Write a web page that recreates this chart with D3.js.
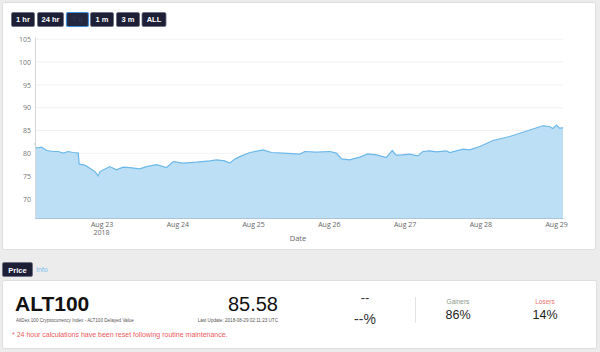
<!DOCTYPE html>
<html>
<head>
<meta charset="utf-8">
<script src="https://cdn.jsdelivr.net/npm/d3@7"></script>
<style>
  body { margin: 0; background: #ececec; }
  svg { display: block; }
</style>
</head>
<body>
<script>
// ALT100 price (UTC)
var times = [
  "2018-08-22 02:54", "2018-08-22 03:12", "2018-08-22 05:00", "2018-08-22 06:36", "2018-08-22 08:42",
  "2018-08-22 10:18", "2018-08-22 11:48", "2018-08-22 13:24", "2018-08-22 15:00", "2018-08-22 16:36",
  "2018-08-22 16:54", "2018-08-22 18:42", "2018-08-22 20:18", "2018-08-22 21:54", "2018-08-22 22:54",
  "2018-08-22 23:30", "2018-08-23 01:36", "2018-08-23 02:36", "2018-08-23 04:42", "2018-08-23 06:48",
  "2018-08-23 09:00", "2018-08-23 12:06", "2018-08-23 14:12", "2018-08-23 17:24", "2018-08-23 20:36",
  "2018-08-23 22:42", "2018-08-24 01:48", "2018-08-24 06:06", "2018-08-24 10:18", "2018-08-24 12:24",
  "2018-08-24 15:00", "2018-08-24 16:36", "2018-08-24 18:12", "2018-08-24 20:18", "2018-08-24 23:00",
  "2018-08-25 03:12", "2018-08-25 05:48", "2018-08-25 09:30", "2018-08-25 14:48", "2018-08-25 16:24",
  "2018-08-25 20:06", "2018-08-26 00:18", "2018-08-26 02:24", "2018-08-26 04:00", "2018-08-26 06:36",
  "2018-08-26 09:48", "2018-08-26 12:24", "2018-08-26 15:06", "2018-08-26 18:12", "2018-08-26 20:06",
  "2018-08-26 21:12", "2018-08-26 22:24", "2018-08-27 01:36", "2018-08-27 04:12", "2018-08-27 05:48",
  "2018-08-27 07:54", "2018-08-27 10:06", "2018-08-27 13:12", "2018-08-27 14:18", "2018-08-27 18:30",
  "2018-08-27 20:36", "2018-08-27 23:48", "2018-08-28 04:00", "2018-08-28 09:18", "2018-08-28 19:48",
  "2018-08-28 21:54", "2018-08-28 23:00", "2018-08-29 00:06", "2018-08-29 01:06", "2018-08-29 02:11"
]
var prices = [
  82.24, 81.14, 81.36, 80.62, 80.40,
  80.40, 80.04, 80.40, 80.18, 80.04,
  77.63, 77.41, 76.75, 76.00, 75.05,
  76.00, 76.75, 77.10, 76.37, 76.97,
  76.88, 76.59, 77.10, 77.54, 76.88,
  78.20, 77.85, 78.07, 78.35, 78.57,
  78.35, 77.85, 78.73, 79.45, 80.18,
  80.77, 80.18, 80.04, 79.82, 80.40,
  80.26, 80.40, 80.04, 78.79, 78.57,
  79.16, 79.89, 79.67, 79.08, 80.62,
  79.67, 79.60, 79.82, 79.45, 80.40,
  80.55, 80.33, 80.55, 80.18, 80.92,
  80.77, 81.49, 82.81, 83.69, 86.04,
  85.89, 85.45, 86.20, 85.54, 85.58
]
var yTicks = [70, 75, 80, 85, 90, 95, 100, 105]
var xTickDays = ["2018-08-23", "2018-08-24", "2018-08-25", "2018-08-26", "2018-08-27", "2018-08-28", "2018-08-29"]
var rangeButtons = ["1 hr", "24 hr", "7 d", "1 m", "3 m", "ALL"]
var selectedButton = "7 d"

var parseTime = d3.utcParse("%Y-%m-%d %H:%M")
var parseDay = d3.utcParse("%Y-%m-%d")
var data = times.map(function(t, i) { return {date: parseTime(t), value: prices[i]} })

svgWidth = 600
svgHeight = 352
margin = {"top": 37, "bottom": 134, "left": 35, "right": 37}

var svg = d3.select("body").append("svg")
    .attr("width", svgWidth)
    .attr("height", svgHeight)
    .style("font-family", "'Liberation Sans', Arial, sans-serif")

// top panel
svg.append("rect")
    .attr("x", 2.5).attr("y", 2.5)
    .attr("width", 593).attr("height", 247)
    .attr("rx", 2)
    .attr("fill", "white")
    .attr("stroke", "#dedede")

// range buttons
var btnX = [11.5, 37.5, 66.5, 90.5, 116.5, 142]
var btnW = [23, 26, 22, 23, 23, 24]
var btns = svg.selectAll(".rbtn")
    .data(rangeButtons)
    .enter().append("g")
      .attr("class", "rbtn")
      .attr("transform", function(d, i) { return "translate(" + btnX[i] + ",12.5)" })

btns.append("rect")
    .attr("width", function(d, i) { return btnW[i] })
    .attr("height", 14)
    .attr("rx", 1.5)
    .attr("fill", function(d) { return d == selectedButton ? "#23283f" : "#1c1f36" })
    .attr("stroke", function(d) { return d == selectedButton ? "#3b8ede" : "#6a6d80" })
    .attr("stroke-width", function(d) { return d == selectedButton ? 1.2 : 0.8 })

btns.append("text")
    .attr("x", function(d, i) { return btnW[i] / 2 })
    .attr("y", 9.8)
    .attr("text-anchor", "middle")
    .attr("font-size", 7.5)
    .attr("font-weight", "bold")
    .attr("fill", function(d) { return d == selectedButton ? "#2d3350" : "white" })
    .text(function(d) { return d })

// chart
var xScale = d3.scaleUtc()
    .domain([parseTime("2018-08-22 02:54"), parseTime("2018-08-29 02:11")])
    .range([margin.left, svgWidth - margin.right])

var yScale = d3.scaleLinear()
    .domain([65.76, 105.5])
    .range([svgHeight - margin.bottom + 0.3, margin.top])

var yAxis = d3.axisLeft(yScale)
    .tickValues(yTicks)
    .tickSize(0)
    .tickPadding(4)

var xAxis = d3.axisBottom(xScale)
    .tickValues(xTickDays.map(parseDay))
    .tickSize(0)
    .tickPadding(4)
    .tickFormat(d3.utcFormat("Aug %-d"))

// gridlines
svg.append("g")
    .selectAll("line")
    .data(yTicks)
    .enter().append("line")
      .attr("x1", margin.left)
      .attr("x2", svgWidth - margin.right)
      .attr("y1", function(d) { return yScale(d) })
      .attr("y2", function(d) { return yScale(d) })
      .attr("stroke", "#f2f2f2")
      .attr("stroke-width", 1)

var area = d3.area()
    .x(function(d) { return xScale(d.date) })
    .y0(yScale(65.76))
    .y1(function(d) { return yScale(d.value) })

var line = d3.line()
    .x(function(d) { return xScale(d.date) })
    .y(function(d) { return yScale(d.value) })

svg.append("path")
    .datum(data)
    .attr("d", area)
    .attr("fill", "#bcdff5")

svg.append("path")
    .datum(data)
    .attr("d", line)
    .attr("fill", "none")
    .attr("stroke", "#6cb8ea")
    .attr("stroke-width", 1.2)

var gy = svg.append("g")
    .attr("transform", "translate(" + margin.left + ",0)")
    .call(yAxis)
gy.select(".domain").attr("stroke", "#d6d6d6")
gy.selectAll("text").attr("fill", "#777").attr("font-size", 7).attr("font-family", "'Open Sans', sans-serif")

var gx = svg.append("g")
    .attr("transform", "translate(0," + (svgHeight - margin.bottom) + ")")
    .call(xAxis)
gx.select(".domain").attr("stroke", "#aac4d8")
gx.selectAll("text").attr("fill", "#666").attr("font-size", 7).attr("font-family", "'Open Sans', sans-serif")

svg.append("text")
    .attr("x", xScale(parseDay("2018-08-23")))
    .attr("y", 235)
    .attr("text-anchor", "middle")
    .attr("font-size", 7)
    .attr("font-family", "'Open Sans', sans-serif")
    .attr("fill", "#666")
    .text("2018")

svg.append("text")
    .attr("x", 298)
    .attr("y", 241)
    .attr("text-anchor", "middle")
    .attr("font-size", 7.5)
    .attr("font-family", "'Open Sans', sans-serif")
    .attr("fill", "#666")
    .text("Date")

// tabs
svg.append("rect")
    .attr("x", 2.5).attr("y", 262.5)
    .attr("width", 30).attr("height", 14)
    .attr("rx", 1.5)
    .attr("fill", "#1c1f36")
    .attr("stroke", "#6a6d80")
    .attr("stroke-width", 0.8)
svg.append("text")
    .attr("x", 17.5).attr("y", 272.5)
    .attr("text-anchor", "middle")
    .attr("font-size", 7.5).attr("font-weight", "bold")
    .attr("fill", "white")
    .text("Price")
svg.append("text")
    .attr("x", 36).attr("y", 272)
    .attr("font-size", 7)
    .attr("fill", "#7ec0ee")
    .text("Info")

// bottom panel
svg.append("rect")
    .attr("x", 2.5).attr("y", 280.5)
    .attr("width", 594).attr("height", 68)
    .attr("rx", 2)
    .attr("fill", "white")
    .attr("stroke", "#dedede")

svg.append("text")
    .attr("x", 15).attr("y", 311)
    .attr("font-size", 21).attr("font-weight", "bold")
    .attr("fill", "#111")
    .text("ALT100")
svg.append("text")
    .attr("x", 16).attr("y", 322)
    .attr("font-size", 4.6)
    .attr("fill", "#555")
    .text("AltDex 100 Cryptocurrency Index - ALT100 Delayed Value")
svg.append("text")
    .attr("x", 12).attr("y", 337)
    .attr("font-size", 7)
    .attr("fill", "#f05a5a")
    .text("* 24 hour calculations have been reset following routine maintenance.")

svg.append("text")
    .attr("x", 278).attr("y", 311)
    .attr("text-anchor", "end")
    .attr("font-size", 20)
    .attr("fill", "#111")
    .text("85.58")
svg.append("text")
    .attr("x", 278).attr("y", 322)
    .attr("text-anchor", "end")
    .attr("font-size", 4.6)
    .attr("fill", "#555")
    .text("Last Update: 2018-08-29 02:11:23 UTC")

svg.append("text")
    .attr("x", 365).attr("y", 302)
    .attr("text-anchor", "middle")
    .attr("font-size", 13)
    .attr("fill", "#333")
    .text("--")
svg.append("text")
    .attr("x", 365).attr("y", 324)
    .attr("text-anchor", "middle")
    .attr("font-size", 14)
    .attr("fill", "#333")
    .text("--%")

svg.append("line")
    .attr("x1", 415.5).attr("x2", 415.5)
    .attr("y1", 297).attr("y2", 323)
    .attr("stroke", "#e4e4e4")

var stats = [
  {label: "Gainers", value: "86%", color: "#8a9a8a", x: 458},
  {label: "Losers", value: "14%", color: "#f07070", x: 545}
]
svg.selectAll(".statLabel")
    .data(stats)
    .enter().append("text")
      .attr("class", "statLabel")
      .attr("x", function(d) { return d.x })
      .attr("y", 304)
      .attr("text-anchor", "middle")
      .attr("font-size", 6.5)
      .attr("fill", function(d) { return d.color })
      .text(function(d) { return d.label })
svg.selectAll(".statValue")
    .data(stats)
    .enter().append("text")
      .attr("class", "statValue")
      .attr("x", function(d) { return d.x })
      .attr("y", 319)
      .attr("text-anchor", "middle")
      .attr("font-size", 12.5)
      .attr("fill", "#222")
      .text(function(d) { return d.value })
</script>
</body>
</html>
